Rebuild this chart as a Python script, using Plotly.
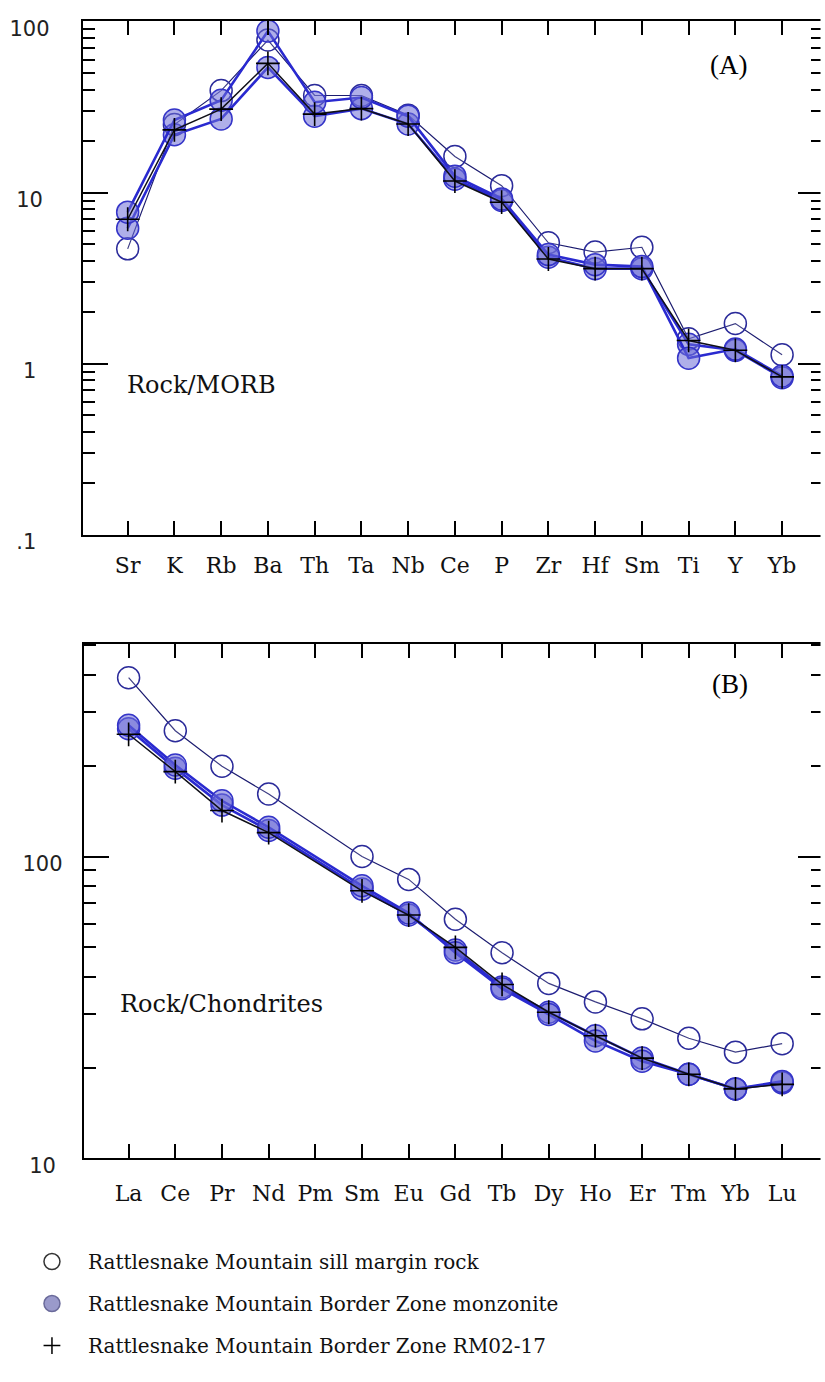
import math
import plotly.graph_objects as go

W, H = 825, 1382

# ---------------- data ----------------
elements_a = ["Sr", "K", "Rb", "Ba", "Th", "Ta", "Nb", "Ce", "P", "Zr", "Hf", "Sm", "Ti", "Y", "Yb"]
sill_a = [4.7, 25, 39.5, 78, 37, 37, 28.4, 16.3, 11.0, 5.1, 4.5, 4.8, 1.4, 1.72, 1.13]
monz1_a = [7.7, 26.6, 34.7, 88, 33.8, 36, 28.0, 12.5, 9.2, 4.35, 3.8, 3.7, 1.08, 1.22, 0.85]
monz2_a = [6.2, 21.8, 27.0, 54, 28.0, 31, 25.2, 12.0, 9.0, 4.2, 3.6, 3.6, 1.3, 1.2, 0.83]
rm_a = [7.0, 23.3, 30.8, 57, 28.8, 31, 25.2, 11.7, 8.8, 4.1, 3.6, 3.6, 1.37, 1.2, 0.84]

elements_b = ["La", "Ce", "Pr", "Nd", "Pm", "Sm", "Eu", "Gd", "Tb", "Dy", "Ho", "Er", "Tm", "Yb", "Lu"]
sill_b = [391, 261, 199, 161, None, 100, 84, 62, 48, 38, 33, 29, 25, 22.5, 24]
monz1_b = [272, 201, 153, 125, None, 80, 65, 48, 36.5, 30, 24.5, 21, 19, 17, 18]
monz2_b = [265, 196, 148, 122, None, 78, 64, 49, 37, 30.5, 25.5, 21.5, 19, 17, 17.8]
rm_b = [254, 191, 142, 120, None, 77, 64, 50, 37.7, 30.5, 25.5, 21.5, 19, 17, 17.6]

legend_names = ["Rattlesnake Mountain sill margin rock",
                "Rattlesnake Mountain Border Zone monzonite",
                "Rattlesnake Mountain Border Zone RM02-17"]

NB = "\u00a0"
ticks_a_vals = [0.1, 1, 10, 100]
ticks_a_text = [".1" + NB * 2, "1" + NB * 2, "10" + NB, "100"]
ticks_b_vals = [10, 100]
ticks_b_text = ["10" + NB, "100"]

# ---------------- styles ----------------
NAVY = "#1c1c70"
BLUE = "#2a2ad0"
FILL = "rgba(110,110,215,0.55)"
SERIF = "DejaVu Serif"
SANS = "DejaVu Sans"


def px_x(p):
    return p / W


def px_y(p):
    return 1 - p / H


fig = go.Figure()


def add_panel(xa, ya, cats, sill, m1, m2, rm):
    common = dict(x=cats, xaxis=xa, yaxis=ya, showlegend=False, connectgaps=True,
                  mode="lines+markers", hoverinfo="skip")
    fig.add_trace(go.Scatter(y=sill, line=dict(color=NAVY, width=1.2),
                             marker=dict(symbol="circle", size=22, color="rgba(255,255,255,0.15)",
                                         line=dict(color="#2b2b9a", width=1.5)), **common))
    for s in (m2, m1):
        fig.add_trace(go.Scatter(y=s, line=dict(color=BLUE, width=2.6),
                                 marker=dict(symbol="circle", size=22, color=FILL,
                                             line=dict(color="#3535c8", width=1.5)), **common))
    fig.add_trace(go.Scatter(y=rm, line=dict(color="#101018", width=1.5),
                             marker=dict(symbol="cross-thin", size=17,
                                         line=dict(color="#000000", width=1.6)), **common))


add_panel("x", "y", elements_a, sill_a, monz1_a, monz2_a, rm_a)
add_panel("x2", "y2", elements_b, sill_b, monz1_b, monz2_b, rm_b)

# legend entries
fig.add_trace(go.Scatter(x=[None], y=[None], mode="markers", name=legend_names[0], legendgroup="a",
                         marker=dict(symbol="circle", size=17, color="white",
                                     line=dict(color="#333333", width=1.5))))
fig.add_trace(go.Scatter(x=[None], y=[None], mode="markers", name=legend_names[1], legendgroup="b",
                         marker=dict(symbol="circle", size=17, color="#9a9acb",
                                     line=dict(color="#6a6a9a", width=1.5))))
fig.add_trace(go.Scatter(x=[None], y=[None], mode="markers", name=legend_names[2], legendgroup="c",
                         marker=dict(symbol="cross-thin", size=12,
                                     line=dict(color="#000000", width=1.5))))

minor_a = [m * 10 ** e for e in (-1, 0, 1) for m in range(2, 10)]
minor_b = [m * 10 ** e for e in (1, 2) for m in range(2, 10) if m * 10 ** e < 505]

xcommon = dict(type="category", showline=True, linecolor="black", linewidth=2, mirror="ticks",
               ticks="inside", ticklen=14, tickwidth=2, tickcolor="black",
               showgrid=False, zeroline=False, tickfont=dict(family=SERIF, size=22, color="#111"),
               range=[-0.96, 14.875])
ycommon = dict(type="log", showline=True, linecolor="black", linewidth=2, mirror="ticks",
               ticks="inside", ticklen=25, tickwidth=2, tickcolor="black",
               showgrid=False, zeroline=False, tickfont=dict(family=SANS, size=21, color="#222"),
               tickmode="array", ticklabelshift=7)

fig.update_layout(
    width=W, height=H, margin=dict(l=0, r=0, t=0, b=0),
    paper_bgcolor="white", plot_bgcolor="white",
    xaxis=dict(domain=[px_x(83), 1.0], anchor="y", ticklabelstandoff=10, **xcommon),
    yaxis=dict(domain=[px_y(540), px_y(17)], anchor="x", range=[-1, 2.005],
               tickvals=ticks_a_vals, ticktext=ticks_a_text, ticklabelstandoff=27,
               minor=dict(tickmode="array", tickvals=minor_a, ticks="inside", ticklen=12,
                          tickwidth=2, tickcolor="black"), **ycommon),
    xaxis2=dict(domain=[px_x(84), 1.0], anchor="y2", ticklabelstandoff=14, **xcommon),
    yaxis2=dict(domain=[px_y(1174), px_y(651)], anchor="x2", range=[1, math.log10(505)],
                tickvals=ticks_b_vals, ticktext=ticks_b_text, ticklabelstandoff=15,
                minor=dict(tickmode="array", tickvals=minor_b, ticks="inside", ticklen=12,
                           tickwidth=2, tickcolor="black"), **ycommon),
    legend=dict(x=px_x(16), y=px_y(1259), xanchor="left", yanchor="top", itemwidth=62,
                font=dict(family=SERIF, size=20, color="#111"), tracegroupgap=13,
                bgcolor="rgba(0,0,0,0)", itemsizing="trace"),
    shapes=[
        # the reference frame's right border lies just beyond the image edge
        dict(type="line", xref="paper", yref="paper", x0=1.0, x1=1.0, y0=0, y1=1,
             line=dict(color="white", width=5), layer="above"),
    ],
    annotations=[
        dict(text="(A)", x=px_x(730), y=px_y(62), xref="paper", yref="paper", showarrow=False,
             xanchor="center", yanchor="middle",
             font=dict(family="Liberation Serif", size=27, color="black")),
        dict(text="Rock/MORB", x=px_x(125), y=px_y(387), xref="paper", yref="paper",
             xanchor="left", yanchor="middle", showarrow=False,
             font=dict(family=SERIF, size=24, color="#111")),
        dict(text="(B)", x=px_x(732), y=px_y(692), xref="paper", yref="paper", showarrow=False,
             xanchor="center", yanchor="middle",
             font=dict(family="Liberation Serif", size=27, color="black")),
        dict(text="Rock/Chondrites", x=px_x(118), y=px_y(1017), xref="paper", yref="paper",
             xanchor="left", yanchor="middle", showarrow=False,
             font=dict(family=SERIF, size=24, color="#111")),
    ],
)

fig.write_html("out.html")
